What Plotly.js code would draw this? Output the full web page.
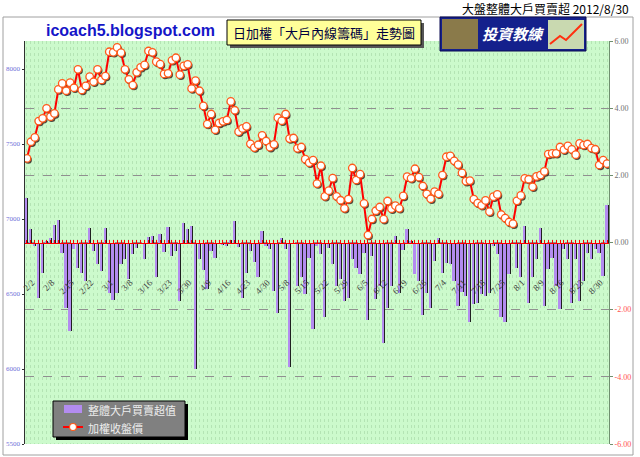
<!DOCTYPE html>
<html><head><meta charset="utf-8">
<script src="https://cdn.plot.ly/plotly-3.0.1.min.js"></script>
<style>html,body{margin:0;padding:0;background:#fff}#chart{width:640px;height:457px}</style>
</head><body><div id="chart"></div>
<script>
// ---- data ----
const dates = [
 "2/2","2/3","2/4","2/6","2/7","2/8","2/9","2/10","2/13","2/14",
 "2/15","2/16","2/17","2/20","2/21","2/22","2/23","2/24","2/27","2/29",
 "3/1","3/2","3/5","3/6","3/7","3/8","3/9","3/12","3/13","3/15",
 "3/16","3/19","3/20","3/21","3/22","3/23","3/26","3/27","3/28","3/29",
 "3/30","4/2","4/3","4/5","4/6","4/9","4/10","4/11","4/12","4/13",
 "4/16","4/17","4/18","4/19","4/20","4/23","4/24","4/25","4/26","4/27",
 "4/30","5/2","5/3","5/4","5/7","5/8","5/9","5/10","5/11","5/14",
 "5/15","5/16","5/17","5/18","5/21","5/22","5/23","5/24","5/25","5/28",
 "5/29","5/30","5/31","6/1","6/4","6/5","6/6","6/7","6/8","6/11",
 "6/12","6/13","6/14","6/15","6/18","6/19","6/20","6/21","6/22","6/25",
 "6/26","6/27","6/28","6/29","7/2","7/4","7/5","7/6","7/9","7/10",
 "7/11","7/12","7/13","7/16","7/17","7/18","7/19","7/20","7/23","7/24",
 "7/25","7/26","7/27","7/30","7/31","8/1","8/3","8/6","8/7","8/8",
 "8/9","8/10","8/13","8/14","8/15","8/16","8/17","8/20","8/21","8/22",
 "8/23","8/24","8/27","8/28","8/29","8/30","8/31","9/3","9/4"];

const closePrice = [
 7404,7515,7544,7653,7671,7738,7682,7704,7864,7904,
 7855,7909,7875,7998,7860,7887,7949,7915,7998,7927,
 7953,8115,8111,8144,8109,7998,7931,7893,7978,8011,
 8027,8120,8111,8049,8033,7967,7971,8058,8075,7962,
 8021,8031,7870,7923,7855,7754,7633,7700,7595,7640,
 7651,7660,7784,7725,7582,7604,7618,7501,7476,7495,
 7558,7520,7479,7498,7675,7655,7700,7536,7540,7471,
 7480,7399,7375,7393,7236,7355,7151,7189,7272,7151,
 7125,7071,7133,7340,7260,7299,7104,6893,7000,7055,
 7080,6999,7120,7069,7089,7071,7154,7282,7271,7335,
 7279,7220,7167,7135,7182,7168,7293,7415,7421,7388,
 7363,7307,7252,7256,7132,7106,7091,7124,7049,7149,
 7164,7030,7006,6980,6969,7121,7157,7271,7265,7215,
 7284,7293,7317,7433,7438,7438,7480,7462,7488,7464,
 7429,7504,7493,7500,7473,7465,7360,7393,7369];

const netBuySell = [
 1.34,0.40,-0.10,-1.64,-0.90,0.05,0.12,0.52,0.68,-0.32,
 -1.94,-2.63,-0.18,-0.75,-0.90,-1.14,0.42,-0.25,-0.65,-0.84,
 0.42,-1.49,-1.71,-1.51,-0.65,-0.50,-1.09,-0.35,-0.15,-0.05,
 -0.50,0.15,0.18,-1.02,0.25,-0.28,0.45,-0.40,-0.25,-1.74,
 0.58,0.40,0.50,-3.77,-0.50,-0.81,-1.39,-0.25,-0.45,-0.02,
 -0.08,-0.10,0.08,0.65,-0.12,-1.64,-0.90,-0.25,-0.58,-1.04,
 0.35,-0.10,-0.18,-1.44,-2.09,0.12,-0.20,-3.72,-0.05,-1.29,
 -1.04,-1.54,-0.45,-2.58,-0.10,-0.35,-2.23,-0.15,-0.65,-1.29,
 -1.09,-1.74,-1.64,-0.50,-0.75,-0.94,-0.30,-2.30,-0.40,-1.69,
 -1.29,-3.00,-1.94,-1.29,0.18,-1.49,-0.22,0.40,0.03,-0.94,
 -1.14,-2.16,-1.49,-1.94,-0.55,0.12,-0.90,-0.60,-0.65,-1.14,
 -1.89,-1.47,-1.59,-2.38,-1.84,-1.79,-1.54,-1.59,-1.49,-0.10,
 -0.35,-2.23,-2.38,-0.94,-0.03,-0.75,-1.04,0.48,-1.79,-1.04,
 -0.50,0.42,-1.89,-0.79,-0.45,-1.29,-1.99,-0.20,-0.50,-1.79,
 -0.50,-1.74,-1.14,-0.30,-0.50,-0.20,-0.30,-0.99,1.11];

const priceTicks = [5500,6000,6500,7000,7500,8000];
const posTicks = [0,2,4,6];
const negTicks = [-6,-4,-2];
const labelEvery = 5;
const seriesNames = ['整體大戶買賣超值','加權收盤價'];

// ---- geometry helpers (plot area in px) ----
const W=640,H=457,L=25,R=609,T=41,B=444;
const px = x => (x-L)/(R-L);
const py = y => (B-y)/(B-T);
const n = dates.length;
const xr = [-0.5, n-0.5];
const pRange = [5500, 5500 + (B-T)/0.15];
const catW = (R-L)/n;
const shadowShiftY = 1.5/0.15;
const shadowShiftX = 1.2/catW;
const labelShift = 1.3;

const idx = dates.map((d,i)=>i);
const lblVals = idx.filter(i=>i%labelEvery===0);
const lblText = lblVals.map(i=>dates[i]);

const barPurple = '#B38CF0';
const traces = [
 {type:'bar', x:dates, y:netBuySell, xaxis:'x', yaxis:'y', marker:{color:'#202020',line:{width:0}},
  offset:0.1, width:0.28, showlegend:false, hoverinfo:'skip'},
 {type:'bar', x:dates, y:netBuySell, xaxis:'x', yaxis:'y', marker:{color:barPurple,line:{width:0}},
  offset:-0.45, width:0.58, name:seriesNames[0], showlegend:false},
 {type:'scatter', mode:'markers', x:dates, y:closePrice, xaxis:'x2', yaxis:'y2',
  marker:{size:7.5, color:'rgba(50,25,25,0.8)', line:{width:0}}, showlegend:false, hoverinfo:'skip'},
 {type:'scatter', mode:'lines+markers', x:dates, y:closePrice, xaxis:'x3', yaxis:'y3',
  line:{color:'#FF0000', width:2},
  marker:{size:7.5, color:'#FFFFFF', line:{color:'#FF5a1a', width:1.3}}, name:seriesNames[1], showlegend:false},
 // invisible helper so the date-label axis gets drawn
 {type:'scatter', mode:'markers', x:lblVals, y:lblVals.map(()=>0), xaxis:'x4', yaxis:'y4',
  marker:{opacity:0, size:1}, showlegend:false, hoverinfo:'skip'}
];

const serif = 'Liberation Serif, DejaVu Serif, serif';
const cjk = 'Noto Sans CJK TC, Noto Sans CJK SC, sans-serif';

const P = (x,y)=>`${px(x)} ${py(y)}`;
const layout = {
 width:W, height:H, margin:{l:L, r:W-R, t:T, b:H-B, pad:0},
 paper_bgcolor:'#FFFFFF', plot_bgcolor:'#CCFACC',
 barmode:'overlay', bargap:0, showlegend:false,
 xaxis:{type:'category', categoryorder:'array', categoryarray:dates, range:xr,
   anchor:'free', position:0.5, showline:true, linecolor:'#FF0000', linewidth:1,
   ticks:'inside', ticklen:3, tickwidth:1, tickcolor:'#FF0000', tickmode:'linear', dtick:1, tick0:0,
   showticklabels:false, showgrid:true, gridcolor:'#B4E4B4', griddash:'dot', gridwidth:1, zeroline:false},
 xaxis2:{type:'category', categoryorder:'array', categoryarray:dates, overlaying:'x',
   range:[xr[0]-shadowShiftX, xr[1]-shadowShiftX], visible:false},
 xaxis3:{type:'category', categoryorder:'array', categoryarray:dates, overlaying:'x', range:xr, visible:false},
 xaxis4:{type:'linear', overlaying:'x', range:[xr[0]-labelShift, xr[1]-labelShift], anchor:'free', position:0.42,
   tickmode:'array', tickvals:lblVals, ticktext:lblText, tickangle:-45, ticks:'', showline:false,
   showgrid:false, zeroline:false, tickfont:{family:serif, size:9, color:'#404040'}},
 yaxis:{range:[-6,6], side:'right', anchor:'x3', tickmode:'array', tickvals:posTicks,
   ticktext:posTicks.map(v=>v.toFixed(2)), tickfont:{family:serif, size:8, color:'#707070'},
   showgrid:true, gridcolor:'#909090', griddash:'dash', gridwidth:1, zeroline:false,
   showline:true, linecolor:'#6f8f6f', linewidth:1, ticks:'outside', ticklen:3, tickcolor:'#6f8f6f'},
 yaxis2:{overlaying:'y', range:[pRange[0]+shadowShiftY, pRange[1]+shadowShiftY], visible:false},
 yaxis3:{overlaying:'y', side:'left', range:pRange, tickmode:'array', tickvals:priceTicks,
   tickfont:{family:serif, size:7, color:'#6F6FD8'}, showgrid:false, zeroline:false,
   showline:true, linecolor:'#303030', linewidth:1.5, ticks:'outside', ticklen:2, tickcolor:'#303030'},
 yaxis4:{overlaying:'y', side:'right', anchor:'x3', range:[-6,6], tickmode:'array', tickvals:negTicks,
   ticktext:negTicks.map(v=>v.toFixed(2)), tickfont:{family:serif, size:8, color:'#FF5050'},
   showgrid:true, gridcolor:'#909090', griddash:'dash', gridwidth:1, zeroline:false, showline:false,
   ticks:'outside', ticklen:3, tickcolor:'#6f8f6f'},
 shapes:[
   {type:'rect', xref:'paper', yref:'paper', x0:px(3), x1:px(633), y0:py(17), y1:py(455),
    line:{color:'#A0A0A0', width:1}, fillcolor:'rgba(0,0,0,0)', layer:'below'},
   // yellow title box shadow + box
   {type:'rect', xref:'paper', yref:'paper', x0:px(230), x1:px(424), y0:py(23), y1:py(48),
    line:{width:0}, fillcolor:'#555555'},
   {type:'rect', xref:'paper', yref:'paper', x0:px(227), x1:px(421), y0:py(20), y1:py(45),
    line:{color:'#000000', width:1}, fillcolor:'#FFFF99'},
   // logo
   {type:'rect', xref:'paper', yref:'paper', x0:px(440), x1:px(586), y0:py(17), y1:py(51),
    line:{color:'#0a0a50', width:1}, fillcolor:'#14208c'},
   {type:'rect', xref:'paper', yref:'paper', x0:px(442), x1:px(478), y0:py(19), y1:py(49),
    line:{width:0}, fillcolor:'#8a7a4a'},
   {type:'rect', xref:'paper', yref:'paper', x0:px(548), x1:px(584), y0:py(20), y1:py(49),
    line:{width:0}, fillcolor:'#c9d9b0'},
   {type:'path', xref:'paper', yref:'paper',
    path:`M ${P(550,44)} L ${P(560,36)} L ${P(566,40)} L ${P(582,24)}`,
    line:{color:'#ff3010', width:2}},
   // custom legend: shadow, box, bar swatch, line + marker
   {type:'rect', xref:'paper', yref:'paper', x0:px(56), x1:px(188), y0:py(404), y1:py(440),
    line:{width:0}, fillcolor:'#000000'},
   {type:'rect', xref:'paper', yref:'paper', x0:px(53), x1:px(185), y0:py(401), y1:py(437),
    line:{color:'#000000', width:1}, fillcolor:'#808080'},
   {type:'rect', xref:'paper', yref:'paper', x0:px(64), x1:px(82), y0:py(405), y1:py(413),
    line:{width:0}, fillcolor:barPurple},
   {type:'line', xref:'paper', yref:'paper', x0:px(63), x1:px(83), y0:py(427), y1:py(427),
    line:{color:'#FF0000', width:2}},
   {type:'circle', xref:'paper', yref:'paper', x0:px(69.5), x1:px(76.5), y0:py(423.5), y1:py(430.5),
    line:{color:'#FF5a1a', width:1.2}, fillcolor:'#FFFFFF'}
 ],
 annotations:[
   {xref:'paper', yref:'paper', x:px(631), y:py(9), xanchor:'right', yanchor:'middle', showarrow:false,
    text:'大盤整體大戶買賣超 2012/8/30', font:{family:cjk, size:12, color:'#000000'}},
   {xref:'paper', yref:'paper', x:px(130), y:py(30), xanchor:'center', yanchor:'middle', showarrow:false,
    text:'<b>icoach5.blogspot.com</b>', font:{family:'Liberation Sans, Arial, sans-serif', size:16, color:'#1515C8'}},
   {xref:'paper', yref:'paper', x:px(324), y:py(32.5), xanchor:'center', yanchor:'middle', showarrow:false,
    text:'日加權「大戶內線籌碼」走勢圖', font:{family:cjk, size:13, color:'#000040'}},
   {xref:'paper', yref:'paper', x:px(513), y:py(34), xanchor:'center', yanchor:'middle', showarrow:false,
    text:'<i><b>投資教練</b></i>', font:{family:cjk, size:15, color:'#FFFFFF'}},
   {xref:'paper', yref:'paper', x:px(86), y:py(409.5), xanchor:'left', yanchor:'middle', showarrow:false,
    text:seriesNames[0], font:{family:cjk, size:11, color:'#EEEEEE'}},
   {xref:'paper', yref:'paper', x:px(86), y:py(427.5), xanchor:'left', yanchor:'middle', showarrow:false,
    text:seriesNames[1], font:{family:cjk, size:11, color:'#EEEEEE'}}
 ]
};

Plotly.newPlot('chart', traces, layout, {staticPlot:true, displayModeBar:false});
</script></body></html>
